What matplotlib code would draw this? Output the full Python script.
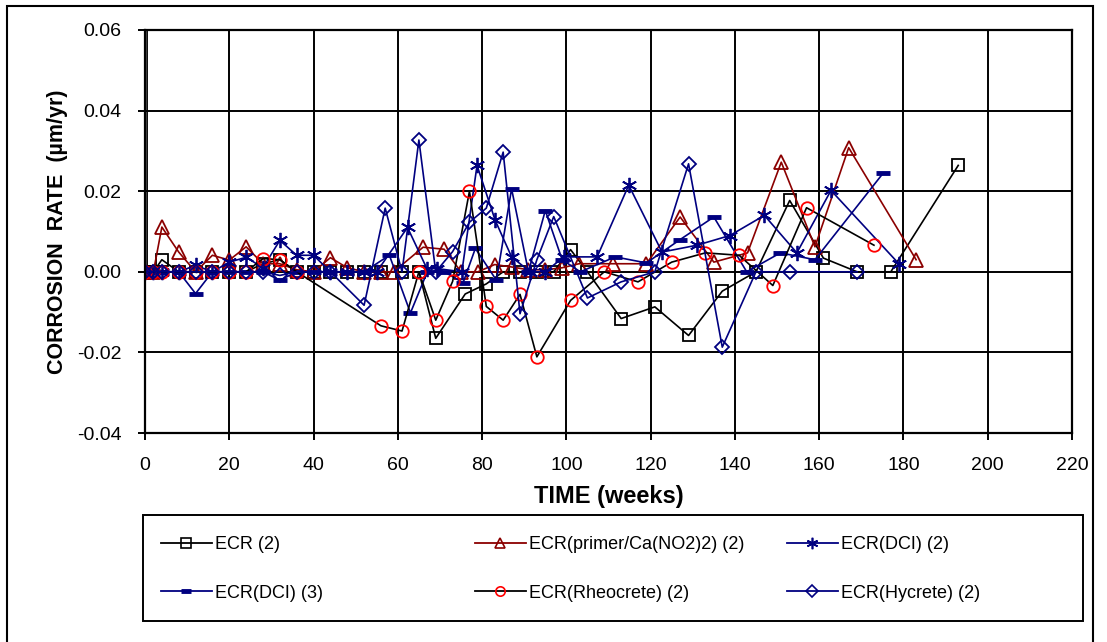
import matplotlib
matplotlib.use("Agg")
import matplotlib.pyplot as plt
from matplotlib.lines import Line2D
from matplotlib.patches import Rectangle

plt.rcParams['font.family'] = ['Liberation Sans', 'DejaVu Sans']
plt.rcParams['axes.unicode_minus'] = False

# ECR (2)
ecr_weeks = [0.4, 0.5, 2, 4, 8, 12, 16, 20, 24, 28, 32, 36, 40, 44, 48, 52, 56, 61, 65, 69,
             76, 81, 85, 89, 93, 97, 101, 105, 113, 121, 129, 137, 145, 153, 161, 169, 177, 193]
ecr_rate = [5.0, 0, 0, 0.003, 0, 0, 0, 0, 0, 0.002, 0.003, 0, 0, 0, 0, 0, 0, 0, 0, -0.0165,
            -0.0055, -0.003, 0, 0, 0, 0, 0.0055, 0, -0.0116, -0.0087, -0.0158, -0.0048, 0, 0.0177,
            0.0034, 0, 0, 0.0264]

# ECR(primer/Ca(NO2)2) (2)
primer_weeks = [0, 2, 4, 8, 12, 16, 20, 24, 28, 32, 36, 40, 44, 48, 52, 56, 59, 66, 71, 75, 79,
                83, 87, 91, 95, 99, 103, 111, 119, 127, 135, 143, 151, 159, 167, 183]
primer_rate = [0, 0, 0.0111, 0.0049, 0, 0.0041, 0.0029, 0.0062, 0.002, 0.002, 0.0005, 0, 0.0035,
               0.001, 0, 0, 0, 0.0061, 0.0056, 0, 0, 0.0018, 0.0012, 0.0005, 0.0005, 0.001, 0.002,
               0.002, 0.002, 0.0136, 0.0024, 0.0047, 0.0272, 0.0062, 0.0308, 0.003]

# ECR(DCI) (2)
dci2_weeks = [0, 2, 4, 8, 12, 16, 20, 24, 28, 32, 36, 40, 44, 48, 52, 55, 62.3, 66.9, 69.3, 75.2,
              78.8, 83.1, 87, 91.4, 95, 99.4, 107.3, 114.8, 122.7, 131, 138.8, 147, 154.7, 162.8, 179]
dci2_rate = [0, 0, 0, 0, 0.0016, 0, 0.0024, 0.0036, 0.001, 0.0078, 0.0041, 0.0041, 0, 0, 0, 0,
             0.011, 0.0008, 0.0008, 0, 0.0264, 0.0128, 0.0037, 0, 0, 0.0037, 0.0037, 0.0215, 0.0049,
             0.0066, 0.009, 0.014, 0.0047, 0.0202, 0.0019]

# ECR(DCI) (3)
dci3_weeks = [0, 2, 4, 8, 12, 16, 20, 24, 28, 32, 36, 40, 44, 48, 52, 58, 63, 67, 71, 75.5, 78.4,
              83.4, 87, 91, 95, 99, 103.3, 111.6, 119, 127, 135, 142.8, 150.8, 159, 175.2]
dci3_rate = [0, 0, 0, 0, -0.0054, 0, 0, 0, 0, -0.0021, 0, 0, 0, 0, 0, 0.0041, -0.0102, 0, 0,
             -0.0027, 0.0058, -0.0021, 0.0206, 0, 0.0152, 0.003, 0, 0.0037, 0.0022, 0.008, 0.0136,
             0, 0.0047, 0.003, 0.0245]

# ECR(Rheocrete) (2)
rheo_weeks = [0, 2, 4, 8, 12, 16, 20, 24, 28, 32, 36, 56, 61, 65, 69, 73, 77, 81, 85, 89, 93, 101,
              109, 117, 125, 133, 141, 149, 157, 173]
rheo_rate = [0, 0, 0, 0, 0, 0, 0, 0, 0.0033, 0.003, 0, -0.0134, -0.0147, 0, -0.012, -0.0024, 0.02,
             -0.0086, -0.012, -0.0056, -0.0211, -0.0071, 0, -0.0025, 0.0024, 0.0047, 0.0041,
             -0.0034, 0.0159, 0.0066]

# ECR(Hycrete) (2)
hyc_weeks = [0, 2, 4, 8, 12, 16, 20, 24, 28, 32, 36, 40, 44, 52, 57, 61, 65, 69, 73, 77, 81, 85,
             89, 93, 97, 105, 113, 121, 129, 137, 145, 153, 169]
hyc_rate = [0, 0, 0, 0, 0, 0, 0, 0, 0, -0.0009, 0, 0, 0, -0.0083, 0.0158, 0, 0.0327, 0, 0.005,
            0.0123, 0.0158, 0.0297, -0.0104, 0.003, 0.0137, -0.0065, -0.0025, 0, 0.0268, -0.0187,
            0, 0, 0]

labels = ["ECR (2)", "ECR(primer/Ca(NO2)2) (2)", "ECR(DCI) (2)",
          "ECR(DCI) (3)", "ECR(Rheocrete) (2)", "ECR(Hycrete) (2)"]
x_ticks = list(range(0, 221, 20))
y_ticks = [-0.04, -0.02, 0.0, 0.02, 0.04, 0.06]

navy = '#000080'
dred = '#8B0000'

styles = [
    dict(color='black', marker='s', mec='black', ms=9),
    dict(color=dred, marker='^', mec=dred, ms=10),
    dict(color=navy, marker=(6, 2, 0), mec=navy, ms=11),
    dict(color=navy, marker='_', mec=navy, ms=10, mew=3.5),
    dict(color='black', marker='o', mec='red', ms=9),
    dict(color=navy, marker='D', mec=navy, ms=7.5),
]
series = [(ecr_weeks, ecr_rate), (primer_weeks, primer_rate), (dci2_weeks, dci2_rate),
          (dci3_weeks, dci3_rate), (rheo_weeks, rheo_rate), (hyc_weeks, hyc_rate)]

fig = plt.figure(figsize=(11.07, 6.42), dpi=100)
ax = fig.add_axes([145 / 1107, 1 - 433 / 642, 927 / 1107, 403 / 642])

for (w, r), st in zip(series, styles):
    kw = dict(lw=1.2, mfc='none', mew=1.3)
    kw.update(st)
    ax.plot(w, r, **kw)

ax.set_xlim(0, 220)
ax.set_ylim(-0.04, 0.06)
ax.set_xticks(x_ticks)
ax.set_yticks(y_ticks)
ax.set_yticklabels(["%.2f" % v for v in y_ticks])
ax.grid(True, color='black', lw=1.4)
for s in ax.spines.values():
    s.set_linewidth(1.6)
ax.tick_params(direction='out', length=5, width=1.4, labelsize=14)
ax.tick_params(axis='y', pad=12)
ax.tick_params(axis='x', pad=12)
ax.set_xlabel("TIME (weeks)", fontsize=17, fontweight='bold', labelpad=8)
ax.set_ylabel("CORROSION  RATE  (\u00b5m/yr)", fontsize=15.5, fontweight='bold', labelpad=6)

# legend box below the plot
fig.add_artist(Rectangle((143 / 1107, 1 - 621 / 642), 940 / 1107, 106 / 642,
                         transform=fig.transFigure, fc='white', ec='black', lw=1.4))

handles = []
for st in styles:
    kw = dict(lw=1.3, mfc='none', mew=1.2)
    kw.update(st)
    kw['ms'] = kw['ms'] * 0.75
    handles.append(Line2D([], [], **kw))

col_x = [161 / 1107, 475 / 1107, 787 / 1107]
for i, cx in enumerate(col_x):
    fig.legend([handles[i], handles[i + 3]], [labels[i], labels[i + 3]],
               loc='center left', bbox_to_anchor=(cx, 1 - 569 / 642), frameon=False,
               fontsize=13, handlelength=2.8, handletextpad=0.2, labelspacing=1.75,
               borderpad=0, borderaxespad=0)

# outer border
fig.add_artist(Rectangle((7 / 1107, -0.02), 1086 / 1107, 1 - 6 / 642 + 0.02,
                         transform=fig.transFigure, fill=False, ec='black', lw=1.5))

fig.savefig("out.png", dpi=100)
